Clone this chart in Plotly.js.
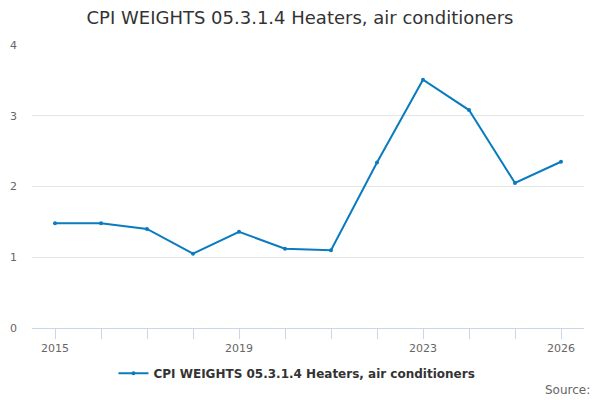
<!DOCTYPE html>
<html>
<head>
<meta charset="utf-8">
<script src="https://cdn.plot.ly/plotly-3.0.1.min.js"></script>
<style>
  html, body { margin: 0; padding: 0; background: #fff; }
  #plot { width: 600px; height: 400px; }
</style>
</head>
<body>
<div id="plot"></div>
<script>
// values
let years = [2015, 2016, 2017, 2018, 2019, 2020, 2021, 2022, 2023, 2024, 2025, 2026];
let weights = [1.48, 1.48, 1.40, 1.05, 1.36, 1.12, 1.10, 2.34, 3.51, 3.08, 2.05, 2.35];
let labelledYears = [2015, 2019, 2023, 2026];
let seriesName = 'CPI WEIGHTS 05.3.1.4 Heaters, air conditioners';

let font = 'DejaVu Sans, Verdana, sans-serif';
let lineColor = '#0a7bbf';

let tickText = years.map(y => labelledYears.includes(y) ? String(y) : '');

let data = [{
  x: years,
  y: weights,
  type: 'scatter',
  mode: 'lines+markers',
  name: seriesName,
  line: {color: lineColor, width: 2},
  marker: {color: lineColor, size: 4}
}];

let layout = {
  width: 600,
  height: 400,
  margin: {l: 32, r: 16, t: 45, b: 72},
  paper_bgcolor: '#fff',
  plot_bgcolor: '#fff',
  font: {family: font, color: '#666', size: 11},
  title: {
    text: 'CPI WEIGHTS 05.3.1.4 Heaters, air conditioners',
    font: {family: font, size: 18, color: '#333'},
    x: 0.5, xanchor: 'center',
    y: 0.955, yanchor: 'middle'
  },
  xaxis: {
    range: [2014.5, 2026.5],
    tickvals: years,
    ticktext: tickText,
    ticks: 'outside',
    ticklen: 10,
    tickcolor: '#ccd6eb',
    tickwidth: 1,
    showline: true,
    linecolor: '#ccd6eb',
    linewidth: 1,
    showgrid: false,
    zeroline: false,
    tickfont: {size: 11, color: '#666'},
    fixedrange: true
  },
  yaxis: {
    range: [0, 4],
    tickvals: [0, 1, 2, 3, 4],
    showgrid: true,
    gridcolor: '#e6e6e6',
    zeroline: false,
    showline: false,
    ticks: '',
    ticklabelstandoff: 14,
    tickfont: {size: 11, color: '#666'},
    fixedrange: true
  },
  showlegend: true,
  legend: {
    orientation: 'h',
    x: 0.48, xanchor: 'center',
    y: -0.16, yanchor: 'middle',
    font: {family: font, size: 12, color: '#333', weight: 'bold'}
  },
  annotations: [{
    text: 'Source:',
    xref: 'paper', yref: 'paper',
    x: 1.015, xanchor: 'right',
    y: -0.22, yanchor: 'middle',
    showarrow: false,
    font: {family: font, size: 12, color: '#666'}
  }]
};

Plotly.newPlot('plot', data, layout, {displayModeBar: false, staticPlot: true});
</script>
</body>
</html>
